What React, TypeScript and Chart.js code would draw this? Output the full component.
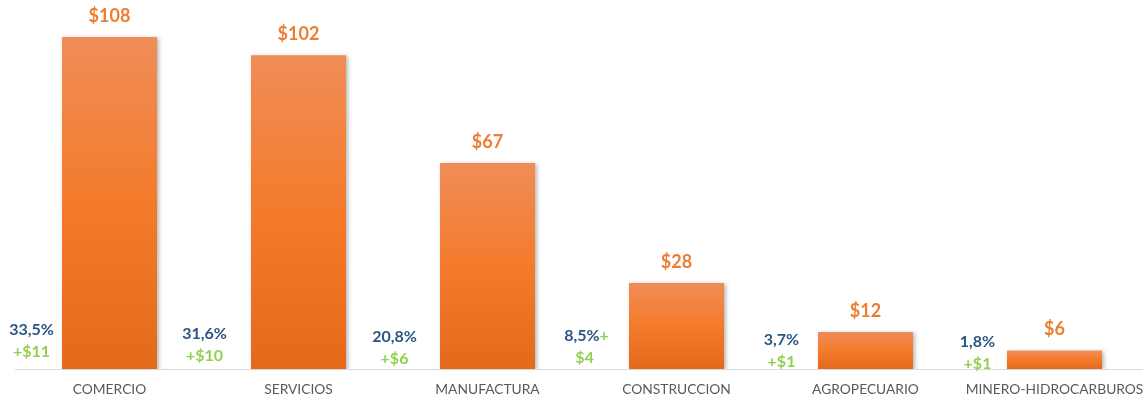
import React, { useEffect, useRef } from "react";
import { Chart, registerables } from "chart.js";

Chart.register(...registerables);

const categories = ["COMERCIO", "SERVICIOS", "MANUFACTURA", "CONSTRUCCION", "AGROPECUARIO", "MINERO-HIDROCARBUROS"];
const values = [108, 102, 67, 28, 12, 6];
const valueLabels = ["$108", "$102", "$67", "$28", "$12", "$6"];
const shares = ["33,5%", "31,6%", "20,8%", "8,5%", "3,7%", "1,8%"];
// "|" marks where the green text wraps: the part before it sits on the first line
const increments = ["+$11", "+$10", "+$6", "+|$4", "+$1", "+$1"];

// layout constants for the side annotations (pixels relative to bar centre / baseline)
const annotationDx = [-78, -94, -93, -90, -84, -77];
const annotationDy = [-39, -35, -32, -33, -29, -27];

const FONT = "Lato, 'Open Sans', sans-serif";

const labelPlugin = {
  id: "customLabels",
  beforeDatasetsDraw(chart: any) {
    const ctx = chart.ctx;
    ctx.save();
    ctx.shadowColor = "rgba(0,0,0,0.28)";
    ctx.shadowBlur = 4;
    ctx.shadowOffsetX = 2;
    ctx.shadowOffsetY = 1;
  },
  afterDatasetsDraw(chart: any) {
    const ctx = chart.ctx;
    ctx.restore();
    const meta = chart.getDatasetMeta(0);
    const yScale = chart.scales.y;
    const base = yScale.getPixelForValue(0);
    ctx.save();
    ctx.textBaseline = "middle";
    meta.data.forEach((bar: any, i: number) => {
      ctx.textAlign = "center";
      ctx.fillStyle = "#ED7D31";
      ctx.font = `bold 18px ${FONT}`;
      ctx.fillText(valueLabels[i], bar.x, bar.y - 21);
      const ax = bar.x + annotationDx[i];
      const ay = base + annotationDy[i];
      ctx.font = `bold 16px ${FONT}`;
      const parts = increments[i].split("|");
      if (parts.length === 2) {
        const w1 = ctx.measureText(shares[i]).width;
        const w2 = ctx.measureText(parts[0]).width;
        const start = ax - (w1 + w2) / 2;
        ctx.textAlign = "left";
        ctx.fillStyle = "#2B5684";
        ctx.fillText(shares[i], start, ay);
        ctx.fillStyle = "#92D050";
        ctx.fillText(parts[0], start + w1, ay);
        ctx.textAlign = "center";
        ctx.fillText(parts[1], ax - 2, ay + 22);
      } else {
        ctx.fillStyle = "#2B5684";
        ctx.fillText(shares[i], ax, ay);
        ctx.fillStyle = "#92D050";
        ctx.fillText(parts[0], ax, ay + 22);
      }
    });
    ctx.restore();
  },
};

export default function App() {
  const ref = useRef<HTMLCanvasElement>(null);
  useEffect(() => {
    document.body.style.margin = "0";
    document.body.style.overflow = "hidden";
    const chart = new Chart(ref.current!, {
      type: "bar",
      data: {
        labels: categories,
        datasets: [
          {
            data: values,
            backgroundColor: (c: any) => {
              const ch = c.chart;
              const y = ch.scales?.y;
              if (!y || c.parsed == null) return "#F47D2A";
              const top = y.getPixelForValue(c.parsed.y);
              const bottom = y.getPixelForValue(0);
              if (!isFinite(top) || !isFinite(bottom) || top === bottom) return "#F47D2A";
              const g = ch.ctx.createLinearGradient(0, top, 0, bottom);
              g.addColorStop(0, "#F08D58");
              g.addColorStop(0.5, "#F37B2B");
              g.addColorStop(1, "#E36A1B");
              return g;
            },
            borderWidth: 0,
            categoryPercentage: 1,
            barPercentage: 0.503,
          },
        ],
      },
      options: {
        responsive: false,
        animation: false,
        layout: { padding: { left: 15, right: 1, top: 0, bottom: 0 } },
        plugins: { legend: { display: false }, tooltip: { enabled: false } },
        scales: {
          x: {
            grid: { display: false, drawTicks: false },
            border: { display: true, color: "#D9D9D9", width: 1 },
            ticks: { color: "#595959", font: { family: FONT, size: 13.8 }, padding: 12, maxRotation: 0, autoSkip: false },
            afterFit: (s: any) => {
              s.height = 31;
              s.paddingLeft = 0;
              s.paddingRight = 0;
            },
          },
          y: { display: false, min: 0, max: 120 },
        },
      },
      plugins: [labelPlugin],
    });
    return () => chart.destroy();
  }, []);
  return (
    <div style={{ width: 1143, height: 400, overflow: "hidden" }}>
      <canvas ref={ref} width={1150} height={400} style={{ display: "block" }} />
    </div>
  );
}
